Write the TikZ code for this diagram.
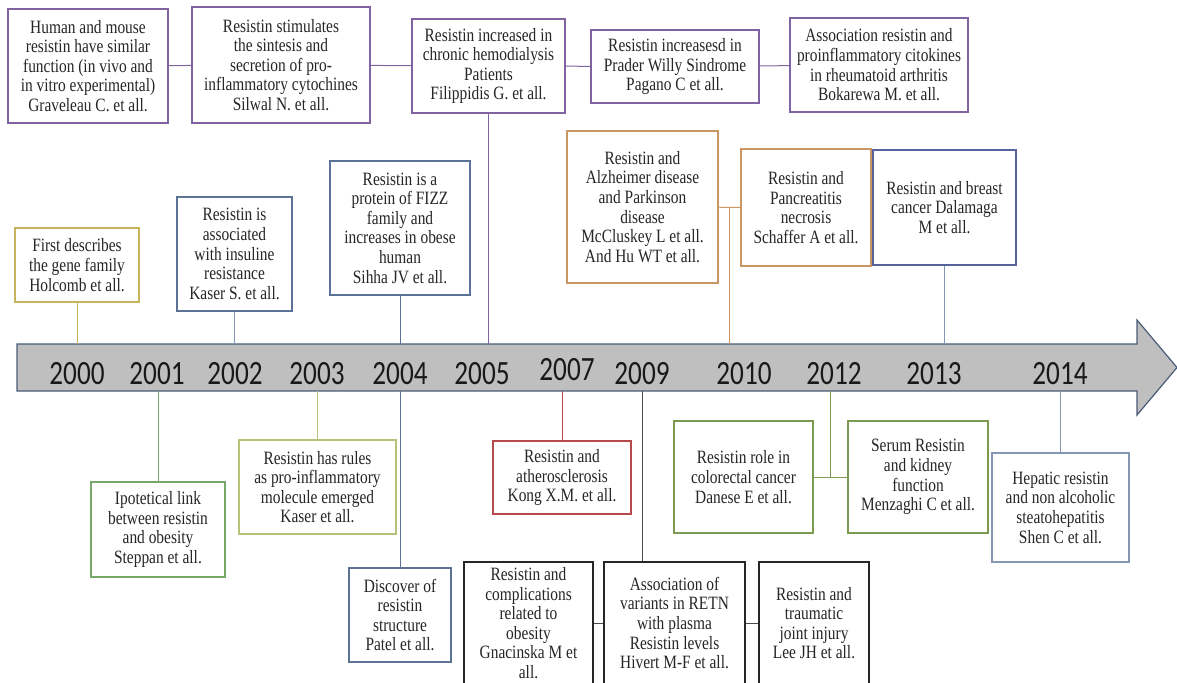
\documentclass[tikz,border=0pt]{standalone}
\usepackage{fontspec}
\usepackage{xcolor}
\usetikzlibrary{calc}
\newfontfamily\boxfont{Liberation Serif}[FakeStretch=0.82]
\newfontfamily\yearfont{Carlito}[FakeStretch=0.8]
\definecolor{plum}{HTML}{8064A2}
\definecolor{mustard}{HTML}{C8B45A}
\definecolor{slate}{HTML}{5B7295}
\definecolor{paleslate}{HTML}{8397B2}
\definecolor{indigo}{HTML}{55649E}
\definecolor{copper}{HTML}{C99563}
\definecolor{leaf}{HTML}{77A86A}
\definecolor{lime}{HTML}{B3C47A}
\definecolor{olive}{HTML}{7C9A50}
\definecolor{brick}{HTML}{B5494B}
\definecolor{bargray}{HTML}{BFBFBF}
\definecolor{baredge}{HTML}{4A5B78}

\begin{document}
\begin{tikzpicture}[x=0.5pt,y=-0.5pt,
  card/.style={draw,fill=white,line width=0.7pt,inner sep=0pt,align=center,text=black!85,
    font={\boxfont\fontsize{9.4}{9.8}\selectfont}},
  wh/.style 2 args={minimum width=#1pt,minimum height=#2pt},
  link/.style={line width=0.5pt},
  year/.style={inner sep=0pt,text=black!90,font={\yearfont\fontsize{17}{17}\selectfont}}
]
\useasboundingbox (0,0) rectangle (1177,682);

% time line
\filldraw[fill=bargray,draw=baredge,line width=0.6pt] (17,344) -- (1137,344) -- (1137,320) -- (1177,367.5)
  -- (1137,415) -- (1137,391) -- (17,391) -- cycle;
\node[inner sep=0pt,wh={560}{23.5}] (bar) at (577,367.5) {};
\node[year] (y00) at (77,374) {2000};
\node[year] (y01) at (157,374) {2001};
\node[year] (y02) at (235,374) {2002};
\node[year] (y03) at (317,374) {2003};
\node[year] (y04) at (400,374) {2004};
\node[year] (y05) at (482,374) {2005};
\node[year] (y07) at (567,370) {2007};
\node[year] (y09) at (642,374) {2009};
\node[year] (y10) at (744,374) {2010};
\node[year] (y12) at (834,374) {2012};
\node[year] (y13) at (934,374) {2013};
\node[year] (y14) at (1060,374) {2014};

% top row
\node[card,draw=plum,wh={80}{57}] (mouse) at (88,66) {Human and mouse\\resistin have similar\\function (in vivo and\\in vitro experimental)\\Graveleau C. et all.};
\node[card,draw=plum,wh={89}{58}] (sintesis) at (281,65) {Resistin stimulates\\the sintesis and\\secretion of pro-\\inflammatory cytochines\\Silwal N. et all.};
\node[card,draw=plum,wh={76.5}{47}] (dialysis) at (488.5,66) {Resistin increased in\\chronic hemodialysis\\Patients\\Filippidis G. et all.};
\node[card,draw=plum,wh={84}{36.5}] (prader) at (675,66.5) {Resistin increasesd in\\Prader Willy Sindrome\\Pagano C et all.};
\node[card,draw=plum,wh={89}{47}] (arthritis) at (879,65) {Association resistin and\\proinflammatory citokines\\in rheumatoid arthritis\\Bokarewa M. et all.};
\draw[link,plum] (mouse) -- (sintesis);
\draw[link,plum] (sintesis) -- (dialysis);
\draw[link,plum] (dialysis) -- (prader);
\draw[link,plum] (prader) -- (arthritis);
\draw[link,plum] (dialysis.south) -- (dialysis.south |- bar.north);

% above the time line
\node[card,draw=mustard,wh={62}{37}] (holcomb) at (77,265) {First describes\\the gene family\\Holcomb et all.};
\node[card,draw=slate,wh={57.5}{57}] (insuline) at (234.5,254) {Resistin is\\associated\\with insuline\\resistance\\Kaser S. et all.};
\node[card,draw=slate,wh={70}{67}] (fizz) at (400,228) {Resistin is a\\protein of FIZZ\\family and\\increases in obese\\human\\Sihha JV et all.};
\node[card,draw=copper,line width=1pt,wh={75.5}{76}] (alzheimer) at (642.5,207) {Resistin and\\Alzheimer disease\\and Parkinson\\disease\\McCluskey L et all.\\And Hu WT et all.};
\node[card,draw=copper,line width=1pt,wh={65}{58.5}] (pancreas) at (806,207.5) {Resistin and\\Pancreatitis\\necrosis\\Schaffer A et all.};
\node[card,draw=indigo,line width=0.8pt,wh={71.5}{57.5}] (breast) at (944.5,207.5) {Resistin and breast\\cancer Dalamaga\\M et all.};
\draw[link,mustard] (holcomb.south) -- (holcomb.south |- bar.north);
\draw[link,paleslate] (insuline.south) -- (insuline.south |- bar.north);
\draw[link,slate] (fizz.south) -- (fizz.south |- bar.north);
\draw[link,copper] (alzheimer) -- (pancreas);
\coordinate (j10) at ($(alzheimer.east)!0.5!(pancreas.west)$);
\draw[link,copper] (j10) -- (j10 |- bar.north);
\draw[link,paleslate] (breast.south) -- (breast.south |- bar.north);

% below the time line
\node[card,draw=leaf,wh={67}{47.5}] (steppan) at (158,529.5) {Ipotetical link\\between resistin\\and obesity\\Steppan et all.};
\node[card,draw=lime,wh={78.5}{47}] (rules) at (317.5,487) {Resistin has rules\\as pro-inflammatory\\molecule emerged\\Kaser et all.};
\node[card,draw=slate,wh={51}{47}] (patel) at (400,615) {Discover of\\resistin\\structure\\Patel et all.};
\node[card,draw=brick,wh={69}{36.5}] (kong) at (562,477.5) {Resistin and\\atherosclerosis\\Kong X.M. et all.};
\node[card,draw=black!85,line width=0.8pt,wh={64.5}{61}] (obesity) at (528.5,623) {Resistin and\\complications\\related to\\obesity\\Gnacinska M et\\all.};
\node[card,draw=black!85,line width=0.8pt,wh={70.5}{61}] (retn) at (674.5,623) {Association of\\variants in RETN\\with plasma\\Resistin levels\\Hivert M-F et all.};
\node[card,draw=black!85,line width=0.8pt,wh={55}{61}] (joint) at (814,623) {Resistin and\\traumatic\\joint injury\\Lee JH et all.};
\node[card,draw=olive,line width=0.8pt,wh={69.5}{56}] (colon) at (743.5,477) {Resistin role in\\colorectal cancer\\Danese E et all.};
\node[card,draw=olive,line width=0.8pt,wh={70}{56}] (kidney) at (918,477) {Serum Resistin\\and kidney\\function\\Menzaghi C et all.};
\node[card,draw=paleslate,wh={68.5}{54.5}] (liver) at (1060.5,507.5) {Hepatic resistin\\and non alcoholic\\steatohepatitis\\Shen C et all.};
\draw[link,leaf] (steppan.north) -- (steppan.north |- bar.south);
\draw[link,lime] (rules.north) -- (rules.north |- bar.south);
\draw[link,slate] (patel.north) -- (patel.north |- bar.south);
\draw[link,brick] (kong.north) -- (kong.north |- bar.south);
\draw[link,black!70] (obesity) -- (retn);
\draw[link,black!70] (retn) -- (joint);
\draw[link,black!70] ([xshift=-16.25pt]retn.north) -- ([xshift=-16.25pt]retn.north |- bar.south);
\draw[link,olive] (colon) -- (kidney);
\coordinate (j12) at ($(colon.east)!0.5!(kidney.west)$);
\draw[link,olive] (j12) -- (j12 |- bar.south);
\draw[link,paleslate] (liver.north) -- (liver.north |- bar.south);
\end{tikzpicture}
\end{document}
